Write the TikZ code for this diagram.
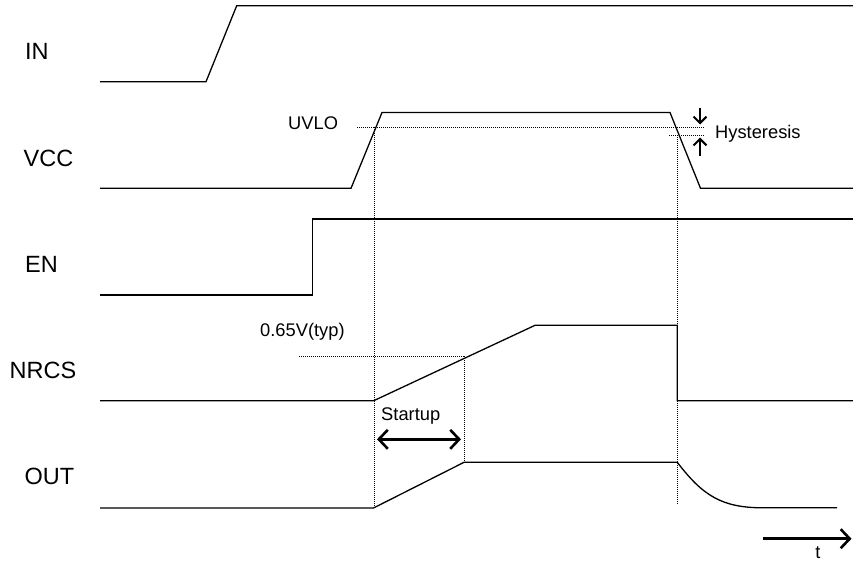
\documentclass[tikz,border=0pt]{standalone}
\usepackage{fontspec}
\setmainfont{Liberation Sans}
\usetikzlibrary{arrows.meta}
\begin{document}
\begin{tikzpicture}[x=1pt,y=-1pt,
  wave/.style={line width=1.3pt,line join=miter},
  guide/.style={line width=0.8pt,dash pattern=on 1pt off 1pt},
  biglbl/.style={font=\fontsize{23.5}{25}\selectfont,inner sep=0pt,anchor=base west},
  smalllbl/.style={font=\fontsize{18.3}{20}\selectfont,inner sep=0pt,anchor=base west},
  bigtip/.tip={Straight Barb[length=9pt,width=19pt,line width=2.6pt]},
  hytip/.tip={Straight Barb[length=6.5pt,width=13pt,line width=2pt]},
  bigarrow/.style={line width=2.8pt,-bigtip},
  dblarrow/.style={line width=2.8pt,bigtip-bigtip},
  hyarrow/.style={line width=2pt,-hytip}]
\useasboundingbox (0,0) rectangle (853,574);
% labels
\node[biglbl] (lin) at (25,59.3) {IN};
\node[biglbl] (lvcc) at (23.5,166.7) {VCC};
\node[biglbl] (len) at (25,272.7) {EN};
\node[biglbl] (lnrcs) at (9.5,378.3) {NRCS};
\node[biglbl] (lout) at (24.5,484) {OUT};
\node[smalllbl] (luvlo) at (288,129.3) {UVLO};
\node[smalllbl] (lhys) at (715,138.3) {Hysteresis};
\node[smalllbl] (lth) at (260,336) {0.65V(typ)};
\node[smalllbl] (lstart) at (381,420.7) {Startup};
\node[smalllbl,anchor=base] (lt) at (818,558) {t};
% IN
\draw[wave] (100,81.7) -- (206,81.7) -- (236.7,5.7) -- (853,5.7);
% VCC
\draw[wave] (100,188.3) -- (351,188.3) -- (382,112.5) -- (670,112.5) -- (700.5,188.3) -- (853,188.3);
% EN
\draw[wave] (100,295) -- (312.7,295) -- (312.7,219) -- (853,219);
% NRCS
\draw[wave] (100,400.8) -- (373.5,400.8) -- (535,325.3) -- (677.3,325.3) -- (677.3,400.8) -- (853,400.8);
% OUT
\draw[wave] (100,508) -- (373.5,508) -- (464,462.3) -- (677.3,462.3)
  .. controls (703,496) and (722,507.5) .. (762,507.8) -- (837,507.8);
% guides
\draw[guide] (357,127.3) -- (705,127.3);
\draw[guide] (669,135) -- (705,135);
\draw[guide] (374,127.3) -- (374,508);
\draw[guide] (677.3,135) -- (677.3,505);
\draw[guide] (299,356) -- (464,356);
\draw[guide] (464,356) -- (464,462.3);
% hysteresis arrows
\coordinate (hd1) at (700,107.5);
\coordinate (hd2) at (700,124.5);
\coordinate (hu1) at (700,156);
\coordinate (hu2) at (700,137.5);
\draw[hyarrow] (hd1) -- (hd2);
\draw[hyarrow] (hu1) -- (hu2);
% startup arrow
\coordinate (sa) at (377,439.3);
\coordinate (sb) at (461,439.3);
\draw[dblarrow] (sa) -- (sb);
% time arrow
\coordinate (ta) at (763,538.7);
\coordinate (tb) at (851.5,538.7);
\draw[bigarrow] (ta) -- (tb);
\end{tikzpicture}
\end{document}
